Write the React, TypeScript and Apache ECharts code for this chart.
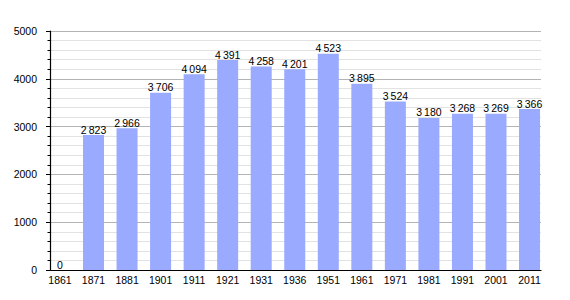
import React, { useEffect, useRef } from "react";
import * as echarts from "echarts";

const years = ["1861", "1871", "1881", "1901", "1911", "1921", "1931", "1936", "1951", "1961", "1971", "1981", "1991", "2001", "2011"];
const population = [0, 2823, 2966, 3706, 4094, 4391, 4258, 4201, 4523, 3895, 3524, 3180, 3268, 3269, 3366];
const yTicks = [0, 1000, 2000, 3000, 4000, 5000];

const FONT = "'Liberation Sans', Arial, sans-serif";

function fmt(v: number): string {
  const s = String(v);
  if (s.length <= 3) return s;
  return s.slice(0, s.length - 3) + "\u2009" + s.slice(s.length - 3);
}

export default function App() {
  const ref = useRef<HTMLDivElement>(null);
  useEffect(() => {
    if (!ref.current) return;
    const chart = echarts.init(ref.current, undefined, { renderer: "svg" });
    const yMax = yTicks[yTicks.length - 1];
    const yInterval = yTicks[1] - yTicks[0];
    chart.setOption({
      animation: false,
      backgroundColor: "#ffffff",
      textStyle: { fontFamily: FONT },
      grid: [
        { left: 50, right: 29, top: 31, bottom: 30 },
        { left: 43.2, right: 23.7, top: 31, bottom: 30 },
      ],
      xAxis: [
        {
          gridIndex: 0,
          type: "category",
          data: years,
          axisLine: { show: true, lineStyle: { color: "#000", width: 1.2 } },
          axisTick: { show: false },
          axisLabel: { show: false },
          splitLine: { show: false },
          z: 5,
        },
        {
          gridIndex: 1,
          type: "category",
          data: years,
          axisLine: { show: false },
          axisTick: { show: false },
          axisLabel: { show: true, color: "#000", fontSize: 10.5, margin: 4, fontFamily: FONT, interval: 0 },
          splitLine: { show: false },
        },
      ],
      yAxis: [
        {
          gridIndex: 0,
          type: "value",
          min: 0,
          max: yMax,
          interval: yInterval,
          axisLine: { show: true, lineStyle: { color: "#000", width: 1.2 } },
          axisTick: { show: true, length: 4, lineStyle: { color: "#000" } },
          minorTick: { show: true, splitNumber: 5, length: 2.5, lineStyle: { color: "#000" } },
          axisLabel: { color: "#000", fontSize: 10.5, margin: 13, fontFamily: FONT, formatter: (v: number) => String(v) },
          splitLine: { show: true, lineStyle: { color: "#b4b4b4", width: 1 } },
          minorSplitLine: { show: true, lineStyle: { color: "#e2e2e2", width: 1 } },
          z: 0,
        },
        {
          gridIndex: 1,
          type: "value",
          min: 0,
          max: yMax,
          interval: yInterval,
          show: false,
          splitLine: { show: false },
        },
      ],
      series: [
        {
          type: "bar",
          xAxisIndex: 1,
          yAxisIndex: 1,
          data: population,
          barWidth: 21,
          itemStyle: { color: "#99aaff" },
          label: {
            show: true,
            position: "top",
            distance: 0,
            color: "#000",
            fontSize: 10.5,
            fontFamily: FONT,
            formatter: (p: any) => fmt(p.value),
          },
          z: 3,
        },
      ],
    });
    return () => chart.dispose();
  }, []);
  return (
    <div
      ref={ref}
      style={{ position: "fixed", left: 0, top: 0, width: 570, height: 300, background: "#fff" }}
    />
  );
}
